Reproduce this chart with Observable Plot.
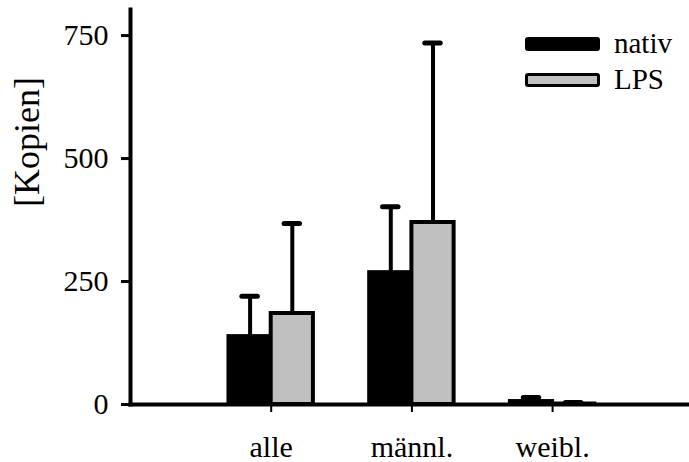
<!DOCTYPE html>
<html>
<head>
<meta charset="utf-8">
<script src="https://cdn.jsdelivr.net/npm/d3@7"></script>
<script src="https://cdn.jsdelivr.net/npm/@observablehq/plot@0.6"></script>
<style>
  body { margin: 0; background: #fff; }
  #wrap { position: relative; width: 689px; height: 462px; font-family: 'Liberation Serif', serif; color: #000; }
  #wrap svg, #wrap svg text { font-family: 'Liberation Serif', serif !important; }
  .sw { position: absolute; box-sizing: border-box; width: 75px; height: 14px; border: 3px solid #000; border-radius: 3px; }
  .lt { position: absolute; font-family: 'Liberation Serif', serif; font-size: 29px; line-height: 30px; white-space: nowrap; }
</style>
</head>
<body>
<div id="wrap"></div>
<script>
const categories = ["alle", "männl.", "weibl."];
const series = ["nativ", "LPS"];
const seriesColors = ["#000000", "#c0c0c0"];
const nativMean = [138, 268, 6];
const nativSD = [82, 134, 8];
const lpsMean = [185, 370, 1];
const lpsSD = [183, 365, 3];
const yTicks = [0, 250, 500, 750];
const yLabel = "[Kopien]";

const means = [nativMean, lpsMean];
const sds = [nativSD, lpsSD];
const barW = 0.3;
const rows = [];
categories.forEach((c, i) => {
  series.forEach((s, si) => {
    const x1 = (i + 1) + (si - 1) * barW;
    rows.push({cat: c, series: s, x1, x2: x1 + barW, xc: x1 + barW / 2,
               mean: means[si][i], top: means[si][i] + sds[si][i]});
  });
});

const chart = Plot.plot({
  width: 689,
  height: 462,
  marginLeft: 130,
  marginRight: 0,
  marginTop: 9,
  marginBottom: 58,
  style: {color: "#000", background: "#fff"},
  x: {domain: [0, 3.973]},
  y: {domain: [0, 803]},
  color: {domain: series, range: seriesColors},
  marks: [
    Plot.rect(rows, {x1: "x1", x2: "x2", y1: 0, y2: "mean", fill: "series", stroke: "#000", strokeWidth: 4}),
    Plot.ruleX(rows, {x: "xc", y1: "mean", y2: "top", stroke: "#000", strokeWidth: 4}),
    Plot.ruleY(rows, {y: "top", x1: d => d.xc - 0.055, x2: d => d.xc + 0.055, stroke: "#000", strokeWidth: 5, strokeLinecap: "round"}),
    Plot.axisY({ticks: yTicks, tickSize: 9, tickPadding: 13, fontSize: 30, strokeWidth: 3, label: null}),
    Plot.axisX({ticks: [1, 2, 3], tickFormat: d => categories[d - 1], tickSize: 8, tickPadding: 23, fontSize: 30, strokeWidth: 2, label: null}),
    Plot.frame({anchor: "left", strokeWidth: 4}),
    Plot.frame({anchor: "bottom", strokeWidth: 4}),
    Plot.text([yLabel], {frameAnchor: "left", rotate: -90, dx: -103, fontSize: 36, fill: "#000"})
  ]
});
const wrap = document.getElementById("wrap");
wrap.appendChild(chart);

const legendTop = [37, 73];
series.forEach((s, i) => {
  const sw = document.createElement("div");
  sw.className = "sw";
  sw.style.left = "525px";
  sw.style.top = legendTop[i] + "px";
  sw.style.background = seriesColors[i];
  wrap.appendChild(sw);
  const t = document.createElement("div");
  t.className = "lt";
  t.style.left = "614px";
  t.style.top = (legendTop[i] - 9) + "px";
  t.textContent = s;
  wrap.appendChild(t);
});
</script>
</body>
</html>
